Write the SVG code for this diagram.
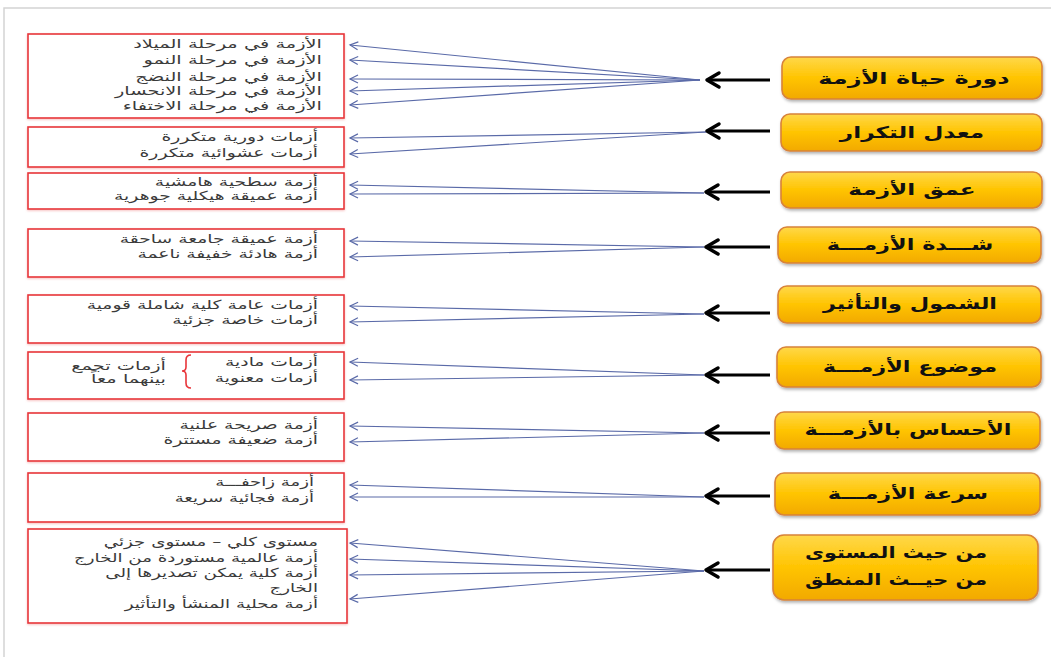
<svg xmlns="http://www.w3.org/2000/svg" width="1051" height="657" viewBox="0 0 1051 657">
<defs>
  <linearGradient id="gold" x1="0" y1="0" x2="0" y2="1">
    <stop offset="0" stop-color="#FFD84A"/>
    <stop offset="0.5" stop-color="#FFC400"/>
    <stop offset="1" stop-color="#F2A900"/>
  </linearGradient>
  <filter id="sh" x="-10%" y="-20%" width="120%" height="150%">
    <feDropShadow dx="1" dy="2" stdDeviation="1.5" flood-color="#000" flood-opacity="0.3"/>
  </filter>
  <filter id="rsh" x="-5%" y="-10%" width="110%" height="120%">
    <feDropShadow dx="0" dy="1" stdDeviation="1" flood-color="#f08080" flood-opacity="0.5"/>
  </filter>
  <marker id="blueHead" markerUnits="userSpaceOnUse" markerWidth="14" markerHeight="12" viewBox="-10 -6 12 12" refX="0" refY="0" orient="auto">
    <path d="M-8,-4 L0,0 L-8,4" fill="none" stroke="#5A6AA8" stroke-width="1.2"/>
  </marker>
  <marker id="blackHead" markerUnits="userSpaceOnUse" markerWidth="20" markerHeight="20" viewBox="-16 -10 20 20" refX="0" refY="0" orient="auto">
    <path d="M-12,-7 L0,0 L-12,7" fill="none" stroke="#000" stroke-width="3.5" stroke-linecap="round" stroke-linejoin="round"/>
  </marker>
</defs>
<style>
  .frame{fill:#fff;stroke:#d4d4d4;stroke-width:1.5}
  .lbox{fill:#fff;stroke:#E8353A;stroke-width:1.6}
  .ybox{fill:url(#gold);stroke:#D8833A;stroke-width:1.6}
  .lt{font-family:"DejaVu Sans",sans-serif;font-size:12.5px;fill:#3a3a3a;text-anchor:end}
  .yt{font-family:"DejaVu Sans",sans-serif;font-size:16px;font-weight:bold;fill:#111;text-anchor:middle}
  .blue{stroke:#5A6AA8;stroke-width:1.2;fill:none}
  .black{stroke:#000;stroke-width:3.2;fill:none}
  .brace{stroke:#E8353A;stroke-width:1.6;fill:none}
</style>
<rect x="0" y="0" width="1051" height="657" fill="#fff"/>
<rect class="frame" x="4" y="8" width="1060" height="660"/>

<g id="connectors">
  <line class="blue" x1="700" y1="80" x2="350" y2="45" marker-end="url(#blueHead)"/>
  <line class="blue" x1="700" y1="80" x2="350" y2="60" marker-end="url(#blueHead)"/>
  <line class="blue" x1="700" y1="80" x2="350" y2="79" marker-end="url(#blueHead)"/>
  <line class="blue" x1="700" y1="80" x2="350" y2="91" marker-end="url(#blueHead)"/>
  <line class="blue" x1="700" y1="80" x2="350" y2="105" marker-end="url(#blueHead)"/>
  <line class="blue" x1="706" y1="132" x2="350" y2="138" marker-end="url(#blueHead)"/>
  <line class="blue" x1="706" y1="132" x2="350" y2="154" marker-end="url(#blueHead)"/>
  <line class="blue" x1="704" y1="193" x2="350" y2="185" marker-end="url(#blueHead)"/>
  <line class="blue" x1="704" y1="193" x2="350" y2="194" marker-end="url(#blueHead)"/>
  <line class="blue" x1="704" y1="247" x2="350" y2="241" marker-end="url(#blueHead)"/>
  <line class="blue" x1="704" y1="247" x2="350" y2="257" marker-end="url(#blueHead)"/>
  <line class="blue" x1="704" y1="314" x2="350" y2="306" marker-end="url(#blueHead)"/>
  <line class="blue" x1="704" y1="314" x2="350" y2="322" marker-end="url(#blueHead)"/>
  <line class="blue" x1="704" y1="375" x2="350" y2="362" marker-end="url(#blueHead)"/>
  <line class="blue" x1="704" y1="375" x2="350" y2="380" marker-end="url(#blueHead)"/>
  <line class="blue" x1="704" y1="433" x2="350" y2="426" marker-end="url(#blueHead)"/>
  <line class="blue" x1="704" y1="433" x2="350" y2="442" marker-end="url(#blueHead)"/>
  <line class="blue" x1="704" y1="497" x2="350" y2="485" marker-end="url(#blueHead)"/>
  <line class="blue" x1="704" y1="497" x2="350" y2="497" marker-end="url(#blueHead)"/>
  <line class="blue" x1="704" y1="571" x2="350" y2="543" marker-end="url(#blueHead)"/>
  <line class="blue" x1="704" y1="571" x2="350" y2="559" marker-end="url(#blueHead)"/>
  <line class="blue" x1="704" y1="571" x2="350" y2="575" marker-end="url(#blueHead)"/>
  <line class="blue" x1="704" y1="571" x2="350" y2="599" marker-end="url(#blueHead)"/>
  <line class="black" x1="770" y1="80" x2="707" y2="80" marker-end="url(#blackHead)"/>
  <line class="black" x1="770" y1="131" x2="707" y2="131" marker-end="url(#blackHead)"/>
  <line class="black" x1="770" y1="192" x2="706" y2="192" marker-end="url(#blackHead)"/>
  <line class="black" x1="770" y1="247" x2="706" y2="247" marker-end="url(#blackHead)"/>
  <line class="black" x1="770" y1="313" x2="706" y2="313" marker-end="url(#blackHead)"/>
  <line class="black" x1="770" y1="375" x2="706" y2="375" marker-end="url(#blackHead)"/>
  <line class="black" x1="770" y1="433" x2="706" y2="433" marker-end="url(#blackHead)"/>
  <line class="black" x1="770" y1="496" x2="706" y2="496" marker-end="url(#blackHead)"/>
  <line class="black" x1="770" y1="570" x2="706" y2="570" marker-end="url(#blackHead)"/>
</g>

<g id="list1">
  <rect class="lbox" filter="url(#rsh)" x="28" y="34" width="316" height="84"/>
  <g transform="matrix(1.55,0,0,1,-177.1,0)">
    <text class="lt" x="322" y="48">الأزمة في مرحلة الميلاد</text>
    <text class="lt" x="322" y="64">الأزمة في مرحلة النمو</text>
    <text class="lt" x="322" y="81">الأزمة في مرحلة النضج</text>
    <text class="lt" x="322" y="95">الأزمة في مرحلة الانحسار</text>
    <text class="lt" x="322" y="110">الأزمة في مرحلة الاختفاء</text>
  </g>
</g>
<g id="list2">
  <rect class="lbox" filter="url(#rsh)" x="28" y="127" width="316" height="40"/>
  <g transform="matrix(1.5,0,0,1,-159,0)">
    <text class="lt" x="318" y="141">أزمات دورية متكررة</text>
    <text class="lt" x="318" y="157">أزمات عشوائية متكررة</text>
  </g>
</g>
<g id="list3">
  <rect class="lbox" filter="url(#rsh)" x="28" y="173" width="316" height="36"/>
  <g transform="matrix(1.5,0,0,1,-159,0)">
    <text class="lt" x="318" y="186">أزمة سطحية هامشية</text>
    <text class="lt" x="318" y="200">أزمة عميقة هيكلية جوهرية</text>
  </g>
</g>
<g id="list4">
  <rect class="lbox" filter="url(#rsh)" x="28" y="229" width="316" height="48"/>
  <g transform="matrix(1.5,0,0,1,-159,0)">
    <text class="lt" x="318" y="243">أزمة عميقة جامعة ساحقة</text>
    <text class="lt" x="318" y="258">أزمة هادئة خفيفة ناعمة</text>
  </g>
</g>
<g id="list5">
  <rect class="lbox" filter="url(#rsh)" x="28" y="295" width="316" height="48"/>
  <g transform="matrix(1.5,0,0,1,-159,0)">
    <text class="lt" x="318" y="309">أزمات عامة كلية شاملة قومية</text>
    <text class="lt" x="318" y="324">أزمات خاصة جزئية</text>
  </g>
</g>
<g id="list6">
  <rect class="lbox" filter="url(#rsh)" x="28" y="352" width="316" height="47"/>
  <g transform="matrix(1.5,0,0,1,-159,0)">
    <text class="lt" x="318" y="366">أزمات مادية</text>
    <text class="lt" x="318" y="382">أزمات معنوية</text>
  </g>
  <path class="brace" d="M191,355 Q186,355 186,360 L186,367 Q186,371 182,371 Q186,371 186,375 L186,383 Q186,388 191,388"/>
  <g transform="matrix(1.55,0,0,1,-91.3,0)">
    <text class="lt" x="166" y="370">أزمات تجمع</text>
    <text class="lt" x="166" y="383">بينهما معاً</text>
  </g>
</g>
<g id="list7">
  <rect class="lbox" filter="url(#rsh)" x="28" y="413" width="316" height="48"/>
  <g transform="matrix(1.5,0,0,1,-159,0)">
    <text class="lt" x="318" y="429">أزمة صريحة علنية</text>
    <text class="lt" x="318" y="444">أزمة ضعيفة مستترة</text>
  </g>
</g>
<g id="list8">
  <rect class="lbox" filter="url(#rsh)" x="28" y="473" width="316" height="49"/>
  <g transform="matrix(1.45,0,0,1,-141.3,0)">
    <text class="lt" x="314" y="486">أزمة زاحفـــة</text>
    <text class="lt" x="314" y="502">أزمة فجائية سريعة</text>
  </g>
</g>
<g id="list9">
  <rect class="lbox" filter="url(#rsh)" x="28" y="529" width="319" height="94"/>
  <g transform="matrix(1.46,0,0,1,-146.28,0)">
    <text class="lt" x="318" y="546">مستوى كلي – مستوى جزئي</text>
    <text class="lt" x="318" y="562">أزمة عالمية مستوردة من الخارج</text>
    <text class="lt" x="318" y="577">أزمة كلية يمكن تصديرها  إلى</text>
    <text class="lt" x="318" y="592">الخارج</text>
    <text class="lt" x="318" y="608">أزمة محلية المنشأ  والتأثير</text>
  </g>
</g>

<g id="cat1">
  <rect class="ybox" filter="url(#sh)" x="782" y="57" width="260" height="42" rx="9"/>
  <text class="yt" transform="matrix(1.5,0,0,1,-457,0)" x="914" y="84">دورة حياة الأزمة</text>
</g>
<g id="cat2">
  <rect class="ybox" filter="url(#sh)" x="781" y="114" width="261" height="37" rx="9"/>
  <text class="yt" transform="matrix(1.45,0,0,1,-410.4,0)" x="912" y="138">معدل التكرار</text>
</g>
<g id="cat3">
  <rect class="ybox" filter="url(#sh)" x="781" y="172" width="261" height="36" rx="9"/>
  <text class="yt" transform="matrix(1.45,0,0,1,-410.4,0)" x="912" y="195">عمق الأزمة</text>
</g>
<g id="cat4">
  <rect class="ybox" filter="url(#sh)" x="778" y="227" width="263" height="36" rx="9"/>
  <text class="yt" transform="matrix(1.4,0,0,1,-364,0)" x="910" y="250">شـــدة الأزمـــة</text>
</g>
<g id="cat5">
  <rect class="ybox" filter="url(#sh)" x="778" y="286" width="263" height="37" rx="9"/>
  <text class="yt" transform="matrix(1.4,0,0,1,-364,0)" x="910" y="309">الشمول والتأثير</text>
</g>
<g id="cat6">
  <rect class="ybox" filter="url(#sh)" x="777" y="347" width="264" height="40" rx="9"/>
  <text class="yt" transform="matrix(1.4,0,0,1,-364,0)" x="910" y="372">موضوع الأزمـــة</text>
</g>
<g id="cat7">
  <rect class="ybox" filter="url(#sh)" x="775" y="412" width="265" height="37" rx="9"/>
  <text class="yt" transform="matrix(1.4,0,0,1,-363.2,0)" x="908" y="435">الأحساس بالأزمـــة</text>
</g>
<g id="cat8">
  <rect class="ybox" filter="url(#sh)" x="775" y="473" width="265" height="42" rx="9"/>
  <text class="yt" transform="matrix(1.4,0,0,1,-363.2,0)" x="908" y="499">سرعة الأزمـــة</text>
</g>
<g id="cat9">
  <rect class="ybox" filter="url(#sh)" x="773" y="535" width="265" height="65" rx="11"/>
  <g transform="matrix(1.3,0,0,1,-268.8,0)">
    <text class="yt" x="896" y="558">من حيث المستوى</text>
    <text class="yt" x="896" y="585">من حيــث المنطق</text>
  </g>
</g>
</svg>
